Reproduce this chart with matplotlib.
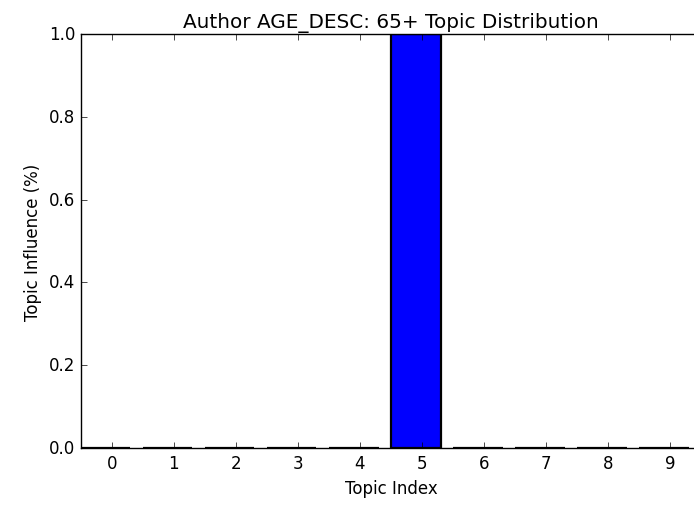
import numpy as np
from matplotlib import pyplot as plt

# Распределение тем для одной возрастной группы авторов
topics = list(range(10))
influence = [0.0, 0.0, 0.0, 0.0, 0.0, 1.0, 0.0, 0.0, 0.0, 0.0]
tick_labels = [str(t) for t in topics]


def draw_distribution():
    plt.style.use('classic')
    fig = plt.figure(figsize=(6.94, 5.06), dpi=100, facecolor='white')
    ax = fig.add_axes([0.1163, 0.1126, 0.894, 0.8182])

    xs = np.array(topics)
    # нулевые столбцы видны только как толстая чёрная черта на оси
    ax.bar(xs, influence, width=0.8, align='edge', color='b',
           edgecolor='k', linewidth=1.6)
    ax.set_xticks(xs + 0.5)
    ax.set_xticklabels(tick_labels)
    ax.set_xlim(0, 10)
    ax.set_ylim(0, 1.0)

    ax.set_title('Author AGE_DESC: 65+ Topic Distribution')
    ax.set_xlabel('Topic Index')
    ax.set_ylabel('Topic Influence (%)')

    fig.savefig('out.png', dpi=100, facecolor='white')


def main():
    draw_distribution()


if __name__ == '__main__':
    main()
